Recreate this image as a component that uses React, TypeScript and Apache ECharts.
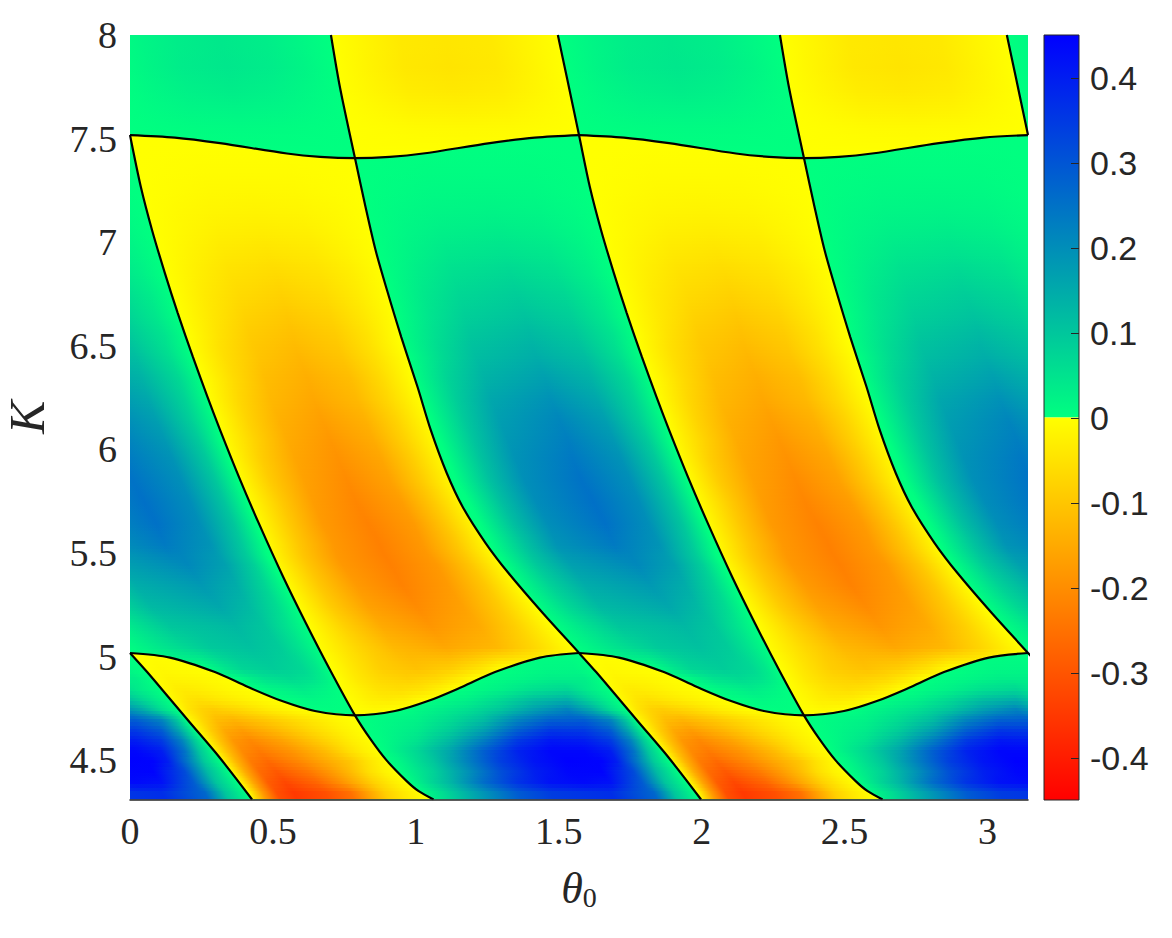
import React, { useEffect, useRef } from "react";
import * as echarts from "echarts";

const HALF_PI = Math.PI / 2;

const xTicks = [0, 0.5, 1, 1.5, 2, 2.5, 3];
const yTicks = [4.5, 5, 5.5, 6, 6.5, 7, 7.5, 8];
const barTicks = [-0.4, -0.3, -0.2, -0.1, 0, 0.1, 0.2, 0.3, 0.4];
const kMin = 4.31;
const kMax = 8;
const valueLimit = 0.45;

const greenRamp = ["#00ff80", "#0000ff"];
const yellowRamp = ["#ffff00", "#ff0000"];

// Zero contours, one period of theta_0, [theta0, K]
const aTop = [[-0.074, 8], [-0.042, 7.792], [0, 7.517]];
const aMid = [[0.038, 7.266], [0.077, 7.059], [0.122, 6.851], [0.167, 6.658], [0.22, 6.446], [0.271, 6.253], [0.315, 6.094], [0.381, 5.867], [0.45, 5.645], [0.536, 5.384], [0.615, 5.162], [0.7, 4.935], [0.787, 4.716]];
const aLow = [[0.842, 4.6], [0.897, 4.5], [0.967, 4.4], [1.01, 4.35], [1.062, 4.31]];
const bTop = [[0.703, 8], [0.735, 7.744], [0.787, 7.406]];
const bMid = [[0.824, 7.17], [0.859, 6.962], [0.899, 6.769], [0.949, 6.542], [1.006, 6.301], [1.052, 6.094], [1.108, 5.886], [1.164, 5.722], [1.244, 5.548], [1.324, 5.403], [1.444, 5.21], [1.571, 5.017]];
const bLow = [[0, 5.017], [0.06, 4.925], [0.143, 4.79], [0.208, 4.684], [0.312, 4.515], [0.427, 4.31]];
const waveTopL = [[0, 7.517], [0.157, 7.505], [0.315, 7.478], [0.549, 7.428], [0.665, 7.412], [0.787, 7.406]];
const waveTopR = [[0.909, 7.412], [1.025, 7.428], [1.259, 7.478], [1.416, 7.505], [1.571, 7.517]];
const waveBotL = [[0, 5.017], [0.14, 4.995], [0.297, 4.925], [0.413, 4.853], [0.532, 4.785], [0.647, 4.737], [0.787, 4.716]];
const waveBotR = [[0.927, 4.737], [1.042, 4.785], [1.161, 4.853], [1.277, 4.925], [1.434, 4.995], [1.571, 5.017]];

// Colour readings along rows of constant K: [K, theta0, value, theta0, value, ...]
const positiveRows = [
  [7.95, 1.51, 0, 1.62, 0.018, 1.74, 0.032, 1.89, 0.04, 2.05, 0.032, 2.16, 0.018, 2.28, 0],
  [7.85, 1.52, 0, 1.64, 0.019, 1.75, 0.034, 1.91, 0.042, 2.06, 0.034, 2.18, 0.019, 2.29, 0],
  [7.75, 1.54, 0, 1.65, 0.015, 1.77, 0.027, 1.92, 0.033, 2.07, 0.027, 2.19, 0.015, 2.31, 0],
  [7.65, 1.55, 0, 1.67, 0.009, 1.78, 0.016, 1.94, 0.02, 2.09, 0.016, 2.2, 0.009, 2.32, 0],
  [7.55, 1.57, 0, 1.79, 0.005, 1.95, 0.007, 2.11, 0.005, 2.34, 0],
  [7.45, 0.78, 0, 1.2, 0.002, 1.585, 0],
  [7.35, 0.795, 0, 1.04, 0.005, 1.24, 0.006, 1.4, 0.005, 1.6, 0],
  [7.25, 0.81, 0, 1.05, 0.01, 1.25, 0.012, 1.41, 0.01, 1.61, 0],
  [7.15, 0.83, 0, 0.95, 0.01, 1.07, 0.018, 1.27, 0.022, 1.43, 0.018, 1.55, 0.009, 1.63, 0],
  [7.05, 0.85, 0, 0.97, 0.016, 1.09, 0.029, 1.29, 0.036, 1.45, 0.029, 1.57, 0.014, 1.65, 0],
  [6.95, 0.87, 0, 0.99, 0.023, 1.11, 0.042, 1.31, 0.052, 1.47, 0.042, 1.59, 0.021, 1.67, 0],
  [6.85, 0.89, 0, 1.01, 0.032, 1.13, 0.056, 1.33, 0.07, 1.49, 0.056, 1.61, 0.028, 1.69, 0],
  [6.75, 0.91, 0, 1.03, 0.04, 1.15, 0.07, 1.35, 0.088, 1.52, 0.07, 1.64, 0.035, 1.72, 0],
  [6.65, 0.93, 0, 1.05, 0.048, 1.17, 0.085, 1.38, 0.106, 1.54, 0.085, 1.66, 0.042, 1.74, 0],
  [6.55, 0.94, 0, 1.07, 0.056, 1.19, 0.1, 1.4, 0.125, 1.56, 0.1, 1.69, 0.05, 1.77, 0],
  [6.45, 0.97, 0, 1.09, 0.065, 1.21, 0.116, 1.42, 0.145, 1.59, 0.116, 1.71, 0.058, 1.79, 0],
  [6.35, 0.99, 0, 1.11, 0.077, 1.24, 0.136, 1.45, 0.17, 1.61, 0.136, 1.74, 0.068, 1.82, 0],
  [6.25, 1.02, 0, 1.14, 0.088, 1.26, 0.156, 1.47, 0.195, 1.63, 0.156, 1.76, 0.078, 1.84, 0],
  [6.15, 1.05, 0, 1.17, 0.096, 1.29, 0.17, 1.5, 0.213, 1.66, 0.17, 1.78, 0.085, 1.87, 0],
  [6.05, 1.08, 0, 1.2, 0.103, 1.32, 0.182, 1.53, 0.228, 1.69, 0.182, 1.81, 0.091, 1.89, 0],
  [5.95, 1.11, 0, 1.23, 0.108, 1.35, 0.192, 1.55, 0.24, 1.72, 0.192, 1.84, 0.096, 1.92, 0],
  [5.85, 1.14, 0, 1.26, 0.112, 1.38, 0.198, 1.58, 0.248, 1.75, 0.198, 1.87, 0.099, 1.95, 0],
  [5.75, 1.18, 0, 1.3, 0.113, 1.42, 0.202, 1.62, 0.252, 1.78, 0.202, 1.9, 0.101, 1.98, 0],
  [5.65, 1.22, 0, 1.34, 0.113, 1.46, 0.2, 1.66, 0.25, 1.81, 0.2, 1.93, 0.1, 2.01, 0],
  [5.55, 1.26, 0, 1.38, 0.106, 1.49, 0.188, 1.69, 0.235, 1.85, 0.188, 1.96, 0.094, 2.04, 0],
  [5.45, 1.31, 0, 1.42, 0.095, 1.54, 0.168, 1.77, 0.21, 1.9, 0.168, 2.0, 0.084, 2.07, 0],
  [5.35, 1.36, 0, 1.47, 0.081, 1.59, 0.144, 1.82, 0.18, 1.94, 0.144, 2.04, 0.072, 2.11, 0],
  [5.25, 1.42, 0, 1.53, 0.07, 1.64, 0.124, 1.88, 0.155, 1.98, 0.124, 2.08, 0.062, 2.15, 0],
  [5.15, 1.48, 0, 1.59, 0.05, 1.71, 0.1, 1.94, 0.125, 2.04, 0.1, 2.12, 0.05, 2.19, 0],
  [5.05, 1.55, 0, 1.67, 0.04, 1.85, 0.095, 1.99, 0.11, 2.09, 0.09, 2.16, 0.05, 2.23, 0],
  [4.95, 0.26, 0, 0.33, 0.045, 0.39, 0.075, 0.5, 0.09, 0.6, 0.07, 0.65, 0.04, 0.695, 0, 1.315, 0, 1.45, 0.012, 1.55, 0.015, 1.613, 0],
  [4.9, 0.36, 0, 0.42, 0.03, 0.47, 0.052, 0.56, 0.065, 0.63, 0.052, 0.68, 0.026, 0.715, 0, 1.218, 0, 1.35, 0.015, 1.47, 0.03, 1.586, 0.03, 1.645, 0],
  [4.85, 0.44, 0, 0.5, 0.018, 0.6, 0.035, 0.68, 0.018, 0.73, 0, 1.16, 0, 1.294, 0.025, 1.411, 0.055, 1.528, 0.07, 1.609, 0.03, 1.675, 0],
  [4.8, 0.52, 0, 0.64, 0.015, 0.75, 0, 1.042, 0, 1.178, 0.025, 1.294, 0.065, 1.411, 0.115, 1.528, 0.14, 1.611, 0.07, 1.705, 0],
  [4.75, 0.63, 0, 0.7, 0.004, 0.77, 0, 0.945, 0, 1.061, 0.025, 1.178, 0.055, 1.294, 0.1, 1.411, 0.17, 1.528, 0.22, 1.611, 0.15, 1.68, 0.06, 1.737, 0],
  [4.7, 0.794, 0, 1.003, 0.025, 1.12, 0.065, 1.236, 0.12, 1.353, 0.22, 1.469, 0.285, 1.586, 0.29, 1.679, 0.22, 1.73, 0.11, 1.77, 0],
  [4.65, 0.821, 0, 1.003, 0.035, 1.12, 0.09, 1.236, 0.17, 1.353, 0.285, 1.469, 0.355, 1.586, 0.35, 1.679, 0.29, 1.74, 0.16, 1.8, 0],
  [4.6, 0.849, 0, 0.887, 0.01, 1.003, 0.05, 1.12, 0.125, 1.236, 0.23, 1.353, 0.35, 1.469, 0.41, 1.586, 0.4, 1.679, 0.35, 1.75, 0.22, 1.795, 0.09, 1.833, 0],
  [4.55, 0.877, 0, 1.003, 0.07, 1.12, 0.16, 1.236, 0.285, 1.353, 0.39, 1.469, 0.44, 1.586, 0.44, 1.679, 0.4, 1.76, 0.25, 1.81, 0.1, 1.864, 0],
  [4.5, 0.906, 0, 0.945, 0.02, 1.061, 0.1, 1.178, 0.22, 1.294, 0.34, 1.411, 0.415, 1.528, 0.45, 1.65, 0.445, 1.7, 0.4, 1.77, 0.24, 1.83, 0.09, 1.89, 0],
  [4.45, 0.939, 0, 1.06, 0.08, 1.178, 0.19, 1.294, 0.31, 1.411, 0.395, 1.528, 0.44, 1.65, 0.445, 1.76, 0.32, 1.84, 0.12, 1.92, 0],
  [4.4, 0.972, 0, 1.05, 0.07, 1.12, 0.13, 1.236, 0.26, 1.353, 0.36, 1.469, 0.42, 1.586, 0.435, 1.679, 0.42, 1.79, 0.29, 1.87, 0.1, 1.95, 0],
  [4.35, 1.01, 0, 1.09, 0.06, 1.178, 0.14, 1.353, 0.29, 1.469, 0.345, 1.586, 0.36, 1.679, 0.37, 1.83, 0.27, 1.9, 0.1, 1.98, 0],
];

const negativeRows = [
  [7.95, 0.71, 0, 0.83, -0.02, 0.95, -0.038, 1.11, -0.045, 1.27, -0.038, 1.39, -0.02, 1.51, 0],
  [7.85, 0.72, 0, 0.84, -0.021, 0.96, -0.04, 1.12, -0.047, 1.28, -0.04, 1.4, -0.021, 1.52, 0],
  [7.75, 0.73, 0, 0.85, -0.018, 0.97, -0.034, 1.13, -0.04, 1.3, -0.034, 1.42, -0.018, 1.54, 0],
  [7.65, 0.75, 0, 0.87, -0.011, 0.99, -0.021, 1.15, -0.025, 1.31, -0.021, 1.43, -0.011, 1.55, 0],
  [7.55, 0.77, 0, 1.01, -0.007, 1.17, -0.008, 1.33, -0.007, 1.57, 0],
  [7.45, 0.01, 0, 0.4, -0.002, 0.78, 0],
  [7.35, 0.03, 0, 0.26, -0.005, 0.41, -0.006, 0.56, -0.005, 0.8, 0],
  [7.25, 0.04, 0, 0.27, -0.01, 0.43, -0.012, 0.58, -0.01, 0.81, 0],
  [7.15, 0.06, 0, 0.175, -0.01, 0.29, -0.018, 0.44, -0.022, 0.6, -0.018, 0.715, -0.01, 0.83, 0],
  [7.05, 0.08, 0, 0.19, -0.015, 0.31, -0.028, 0.46, -0.034, 0.62, -0.028, 0.74, -0.015, 0.85, 0],
  [6.95, 0.1, 0, 0.21, -0.022, 0.33, -0.04, 0.48, -0.05, 0.64, -0.04, 0.76, -0.022, 0.87, 0],
  [6.85, 0.12, 0, 0.24, -0.03, 0.35, -0.053, 0.51, -0.065, 0.66, -0.053, 0.78, -0.03, 0.89, 0],
  [6.75, 0.15, 0, 0.26, -0.037, 0.38, -0.066, 0.53, -0.082, 0.68, -0.066, 0.79, -0.037, 0.91, 0],
  [6.65, 0.17, 0, 0.29, -0.044, 0.4, -0.079, 0.55, -0.098, 0.7, -0.079, 0.81, -0.044, 0.93, 0],
  [6.55, 0.2, 0, 0.31, -0.051, 0.42, -0.092, 0.57, -0.113, 0.72, -0.092, 0.83, -0.051, 0.94, 0],
  [6.45, 0.22, 0, 0.33, -0.058, 0.45, -0.104, 0.59, -0.128, 0.74, -0.104, 0.85, -0.058, 0.97, 0],
  [6.35, 0.25, 0, 0.36, -0.064, 0.47, -0.116, 0.62, -0.143, 0.77, -0.116, 0.88, -0.064, 0.99, 0],
  [6.25, 0.27, 0, 0.38, -0.07, 0.49, -0.126, 0.64, -0.156, 0.79, -0.126, 0.9, -0.07, 1.02, 0],
  [6.15, 0.3, 0, 0.41, -0.077, 0.52, -0.138, 0.67, -0.17, 0.82, -0.138, 0.93, -0.077, 1.05, 0],
  [6.05, 0.32, 0, 0.44, -0.082, 0.55, -0.148, 0.7, -0.183, 0.85, -0.148, 0.96, -0.082, 1.08, 0],
  [5.95, 0.35, 0, 0.46, -0.088, 0.58, -0.158, 0.73, -0.195, 0.88, -0.158, 0.99, -0.088, 1.11, 0],
  [5.85, 0.38, 0, 0.49, -0.092, 0.61, -0.166, 0.76, -0.205, 0.91, -0.166, 1.02, -0.092, 1.14, 0],
  [5.75, 0.41, 0, 0.53, -0.096, 0.64, -0.173, 0.79, -0.213, 0.95, -0.173, 1.06, -0.096, 1.18, 0],
  [5.65, 0.44, 0, 0.56, -0.099, 0.67, -0.178, 0.83, -0.22, 0.99, -0.178, 1.1, -0.099, 1.22, 0],
  [5.55, 0.47, 0, 0.59, -0.101, 0.71, -0.182, 0.87, -0.225, 1.02, -0.182, 1.14, -0.101, 1.26, 0],
  [5.45, 0.5, 0, 0.62, -0.101, 0.74, -0.182, 0.91, -0.225, 1.07, -0.182, 1.19, -0.101, 1.31, 0],
  [5.35, 0.54, 0, 0.66, -0.099, 0.79, -0.178, 0.95, -0.22, 1.11, -0.178, 1.24, -0.099, 1.36, 0],
  [5.25, 0.58, 0, 0.7, -0.092, 0.83, -0.166, 1.0, -0.205, 1.16, -0.166, 1.29, -0.092, 1.42, 0],
  [5.15, 0.62, 0, 0.75, -0.083, 0.88, -0.15, 1.05, -0.185, 1.22, -0.15, 1.35, -0.083, 1.48, 0],
  [5.05, 0.65, 0, 0.79, -0.07, 0.92, -0.126, 1.1, -0.155, 1.28, -0.126, 1.41, -0.07, 1.55, 0],
  [4.95, 0.04, 0, 0.1, -0.01, 0.26, 0, 0.7, 0, 0.79, -0.05, 0.88, -0.089, 1.0, -0.11, 1.12, -0.089, 1.22, -0.05, 1.31, 0],
  [4.9, 0.07, 0, 0.13, -0.02, 0.22, -0.016, 0.36, 0, 0.72, 0, 0.79, -0.038, 0.87, -0.069, 0.97, -0.085, 1.07, -0.069, 1.14, -0.038, 1.22, 0],
  [4.85, 0.1, 0, 0.16, -0.032, 0.19, -0.035, 0.25, -0.028, 0.34, -0.012, 0.44, 0, 0.73, 0, 0.8, -0.027, 0.86, -0.049, 0.94, -0.06, 1.02, -0.049, 1.08, -0.027, 1.14, 0],
  [4.8, 0.13, 0, 0.17, -0.028, 0.2, -0.048, 0.24, -0.055, 0.31, -0.041, 0.41, -0.019, 0.47, -0.007, 0.52, 0, 0.75, 0, 0.84, -0.028, 0.9, -0.035, 0.96, -0.028, 1.05, 0],
  [4.75, 0.17, 0, 0.2, -0.045, 0.25, -0.079, 0.29, -0.09, 0.38, -0.068, 0.49, -0.032, 0.57, -0.011, 0.63, 0, 0.77, 0, 0.86, -0.012, 0.95, 0],
  [4.7, 0.2, 0, 0.25, -0.068, 0.3, -0.119, 0.36, -0.135, 0.47, -0.101, 0.62, -0.047, 0.72, -0.016, 0.79, 0],
  [4.65, 0.23, 0, 0.28, -0.088, 0.33, -0.154, 0.39, -0.175, 0.5, -0.131, 0.64, -0.065, 0.74, -0.024, 0.82, 0],
  [4.6, 0.26, 0, 0.31, -0.105, 0.36, -0.185, 0.42, -0.21, 0.53, -0.165, 0.67, -0.085, 0.77, -0.03, 0.85, 0],
  [4.55, 0.29, 0, 0.34, -0.118, 0.39, -0.207, 0.45, -0.235, 0.56, -0.19, 0.68, -0.12, 0.76, -0.06, 0.82, -0.025, 0.88, 0],
  [4.5, 0.32, 0, 0.37, -0.133, 0.42, -0.233, 0.48, -0.265, 0.59, -0.21, 0.67, -0.16, 0.77, -0.1, 0.83, -0.05, 0.91, 0],
  [4.45, 0.35, 0, 0.4, -0.148, 0.45, -0.26, 0.51, -0.295, 0.62, -0.24, 0.7, -0.18, 0.77, -0.12, 0.83, -0.06, 0.89, -0.02, 0.94, 0],
  [4.4, 0.38, 0, 0.43, -0.163, 0.48, -0.286, 0.54, -0.325, 0.65, -0.27, 0.73, -0.2, 0.79, -0.14, 0.85, -0.08, 0.91, -0.035, 0.97, 0],
  [4.35, 0.41, 0, 0.46, -0.175, 0.51, -0.308, 0.57, -0.35, 0.68, -0.31, 0.77, -0.25, 0.83, -0.165, 0.89, -0.085, 0.95, -0.04, 1.02, 0],
];

const barPieces = [
  [0, 0.45],
  [-0.45, 0],
];

const shift = (pts: number[][], dx: number) => pts.map(([t, k]) => [t + dx, k]);
const rev = (pts: number[][]) => pts.slice().reverse();

const curveAFromZero = [aTop[aTop.length - 1], ...aMid, ...aLow];
const curveA = [...aTop, ...aMid, ...aLow];
const curveB = [...bTop, ...bMid, ...shift(bLow, HALF_PI).slice(1)];
const curveWaveTop = [...waveTopL, ...waveTopR];
const curveWaveBot = [...waveBotL, ...waveBotR];

const contourSets: number[][][] = [
  curveAFromZero,
  shift(curveA, HALF_PI),
  shift(aTop, Math.PI),
  bLow,
  curveB,
  shift(curveB, HALF_PI),
  curveWaveTop,
  shift(curveWaveTop, HALF_PI),
  curveWaveBot,
  shift(curveWaveBot, HALF_PI),
];

const regionShapes = [
  [...bTop, ...waveTopR, ...rev(shift(aTop, HALF_PI))],
  [...waveTopL, ...bMid, ...rev(waveBotR), ...rev(aMid)],
  [...bLow, ...rev(aLow), ...rev(waveBotL)],
];
const regionSet = [0, 1, 2].flatMap((r) => [0, HALF_PI].map((o) => shift(regionShapes[r], o)));

const colorOf = (v: number) =>
  echarts.color.lerp(Math.min(1, Math.abs(v) / valueLimit), v < 0 ? yellowRamp : greenRamp);

const slantFor = (k: number) => (k > 7.5 ? 0.2 : k > 6.5 ? 0.25 : k > 5.5 ? 0.4 : k > 5 ? 0.6 : 0.5);

const GRAD_MIN = -2;
const GRAD_MAX = 5.5;

// A linear gradient along one row of readings, with its stops placed by the x scale.
function rowFill(row: number[], api: any, neg: boolean) {
  const yc = api.coord([0, row[0]])[1];
  const x0 = api.coord([GRAD_MIN, row[0]])[0];
  const x1 = api.coord([GRAD_MAX, row[0]])[0];
  const w = x1 - x0;
  const s = slantFor(row[0]);
  const a = w / (1 + s * s);
  const stops: { t: number; v: number }[] = [];
  [-HALF_PI, 0, HALF_PI].forEach((off) => {
    for (let j = 1; j < row.length; j += 2) stops.push({ t: row[j] + off, v: row[j + 1] });
  });
  stops.sort((p, q) => p.t - q.t);
  const zero = neg ? -1e-6 : 1e-6;
  return {
    type: "linear",
    global: true,
    x: x0,
    y: yc,
    x2: x0 + a,
    y2: yc - a * s,
    colorStops: stops.map((p) => ({
      offset: (p.t - GRAD_MIN) / (GRAD_MAX - GRAD_MIN),
      color: colorOf(p.v === 0 ? zero : p.v),
    })),
  };
}

function blendStrips(rows: number[][], i: number, api: any, neg: boolean, y0: number, y1: number, left: number, width: number) {
  const nextFill = rowFill(rows[i + 1], api, neg);
  const pieces = Math.max(2, Math.round((y1 - y0) / 3));
  const out: any[] = [];
  for (let j = 1; j < pieces; j++) {
    const a = Math.round(y0 + ((y1 - y0) * j) / pieces);
    const b = Math.round(y0 + ((y1 - y0) * (j + 1)) / pieces);
    if (b <= a) continue;
    out.push({
      type: "rect",
      shape: { x: left, y: a, width, height: b - a },
      style: { fill: nextFill, stroke: null, opacity: j / pieces },
      silent: true,
    });
  }
  return out;
}

// Paints the interval from row i to row i + 1, cross-fading the two rows' colours on screen.
function intervalElements(rows: number[][], i: number, api: any, neg: boolean) {
  const left = api.coord([0, kMax])[0];
  const right = api.coord([Math.PI, kMax])[0];
  const width = right - left;
  const yOf = (k: number) => Math.round(api.coord([0, k])[1]);
  const fill = rowFill(rows[i], api, neg);
  const topK = i === 0 ? kMax : rows[i][0];
  const nextK = i === rows.length - 1 ? kMin : rows[i + 1][0];
  const y0 = yOf(topK);
  const y1 = yOf(nextK);
  const out: any[] = [
    {
      type: "rect",
      shape: { x: left, y: y0, width, height: y1 - y0 + 1 },
      style: { fill, stroke: null },
      silent: true,
    },
  ];
  if (i === rows.length - 1) return out;
  const start = i === 0 ? yOf(rows[0][0]) : y0;
  return out.concat(blendStrips(rows, i, api, neg, start, y1, left, width));
}

const inkColor = "#262626";
const serif = "'Liberation Serif', 'Times New Roman', serif";
const sans = "'Liberation Sans', Arial, sans-serif";

export default function App() {
  const ref = useRef<HTMLDivElement>(null);
  useEffect(() => {
    const chart = echarts.init(ref.current!, undefined, { renderer: "svg" });
    const lineSeries: any[] = contourSets.map((pts) => ({
      type: "line",
      xAxisIndex: 0,
      yAxisIndex: 0,
      data: pts,
      showSymbol: false,
      symbol: "none",
      smooth: 0.3,
      clip: true,
      z: 5,
      silent: true,
      lineStyle: { color: "#000000", width: 2.2 },
    }));
    chart.setOption({
      animation: false,
      backgroundColor: "#ffffff",
      grid: [
        { left: 130, top: 35, width: 898, height: 764.5, containLabel: false, outerBoundsMode: "none" },
        { left: 1044, top: 35, width: 35, height: 765, containLabel: false, outerBoundsMode: "none" },
      ],
      xAxis: [
        {
          type: "value",
          gridIndex: 0,
          min: 0,
          max: Math.PI,
          name: "{t|θ}{s|0}",
          nameLocation: "middle",
          nameGap: 66,
          nameTextStyle: {
            rich: {
              t: { fontFamily: serif, fontStyle: "italic", fontSize: 44, color: inkColor },
              s: { fontFamily: serif, fontSize: 28, color: inkColor, padding: [18, 0, 0, 0] },
            },
          },
          splitLine: { show: false },
          axisTick: { show: false },
          axisLine: { show: true, onZero: false, lineStyle: { color: inkColor, width: 1.5 } },
          axisLabel: { customValues: xTicks, fontFamily: serif, fontSize: 38, color: inkColor, margin: 12 },
          z: 6,
        },
        { type: "value", gridIndex: 1, min: 0, max: 1, show: false },
      ],
      yAxis: [
        {
          type: "value",
          gridIndex: 0,
          min: kMin,
          max: kMax,
          name: "K",
          nameLocation: "middle",
          nameGap: 78,
          nameRotate: 90,
          nameTextStyle: { fontFamily: serif, fontStyle: "italic", fontSize: 50, color: inkColor },
          splitLine: { show: false },
          axisTick: { show: false },
          axisLine: { show: false },
          axisLabel: { customValues: yTicks, fontFamily: serif, fontSize: 38, color: inkColor, margin: 13 },
        },
        {
          type: "value",
          gridIndex: 1,
          position: "right",
          min: -valueLimit,
          max: valueLimit,
          splitLine: { show: false },
          axisLine: { show: false },
          axisTick: { show: false },
          axisLabel: { customValues: barTicks, fontFamily: sans, fontSize: 34, color: inkColor, margin: 11 },
        },
      ],
      series: [
        {
          type: "custom",
          name: "positive",
          xAxisIndex: 0,
          yAxisIndex: 0,
          coordinateSystem: "cartesian2d",
          silent: true,
          clip: true,
          z: 1,
          data: positiveRows.map((_, i) => [i]),
          encode: { x: [], y: [] },
          renderItem: (_: any, api: any) => ({
            type: "group",
            children: intervalElements(positiveRows, api.value(0), api, false),
          }),
        },
        {
          type: "custom",
          name: "negative",
          xAxisIndex: 0,
          yAxisIndex: 0,
          coordinateSystem: "cartesian2d",
          silent: true,
          clip: true,
          z: 2,
          data: regionSet.map((_, i) => [i]),
          encode: { x: [], y: [] },
          renderItem: (_: any, api: any) => {
            const poly = regionSet[api.value(0)];
            const ks = poly.map((p) => p[1]);
            const kHi = Math.max(...ks);
            const kLo = Math.min(...ks);
            let children: any[] = [];
            negativeRows.forEach((r, i) => {
              const next = i === negativeRows.length - 1 ? kMin : negativeRows[i + 1][0];
              const top = i === 0 ? kMax : r[0];
              if (top >= kLo && next <= kHi) children = children.concat(intervalElements(negativeRows, i, api, true));
            });
            return {
              type: "group",
              children,
              clipPath: {
                type: "polygon",
                shape: { points: poly.map((p) => api.coord(p)) },
              },
            };
          },
        },
        {
          type: "custom",
          name: "colorbar",
          xAxisIndex: 1,
          yAxisIndex: 1,
          coordinateSystem: "cartesian2d",
          silent: true,
          clip: false,
          z: 3,
          data: barPieces.map((_, i) => [i]),
          encode: { x: [], y: [] },
          renderItem: (_: any, api: any) => {
            const [lo, hi] = barPieces[api.value(0)];
            const a = api.coord([0, hi]);
            const b = api.coord([1, lo]);
            const mid = (lo + hi) / 2;
            return {
              type: "rect",
              shape: { x: a[0], y: a[1], width: b[0] - a[0], height: b[1] - a[1] },
              style: {
                fill: {
                  type: "linear",
                  x: 0,
                  y: 0,
                  x2: 0,
                  y2: 1,
                  colorStops: [
                    { offset: 0, color: mid > 0 ? greenRamp[1] : yellowRamp[0] },
                    { offset: 1, color: mid > 0 ? greenRamp[0] : yellowRamp[1] },
                  ],
                },
                stroke: null,
              },
            };
          },
        },
        {
          type: "custom",
          name: "colorbarFrame",
          xAxisIndex: 1,
          yAxisIndex: 1,
          coordinateSystem: "cartesian2d",
          silent: true,
          clip: false,
          z: 4,
          data: [[0]],
          encode: { x: [], y: [] },
          renderItem: (_: any, api: any) => {
            const a = api.coord([0, valueLimit]);
            const b = api.coord([1, -valueLimit]);
            return {
              type: "rect",
              shape: { x: a[0], y: a[1], width: b[0] - a[0], height: b[1] - a[1] },
              style: { fill: "none", stroke: inkColor, lineWidth: 1 },
            };
          },
        },
        {
          type: "custom",
          name: "colorbarTicks",
          xAxisIndex: 1,
          yAxisIndex: 1,
          coordinateSystem: "cartesian2d",
          silent: true,
          clip: false,
          z: 4,
          data: barTicks.map((v) => [1, v]),
          encode: { x: 0, y: 1 },
          renderItem: (_: any, api: any) => {
            const p = api.coord([api.value(0), api.value(1)]);
            const y = Math.round(p[1]) + 0.5;
            return {
              type: "line",
              shape: { x1: p[0] - 8, y1: y, x2: p[0], y2: y },
              style: { stroke: inkColor, lineWidth: 1 },
            };
          },
        },
        ...lineSeries,
      ],
    });
    return () => chart.dispose();
  }, []);
  return <div ref={ref} style={{ position: "absolute", left: 0, top: 0, width: 1172, height: 938 }} />;
}
